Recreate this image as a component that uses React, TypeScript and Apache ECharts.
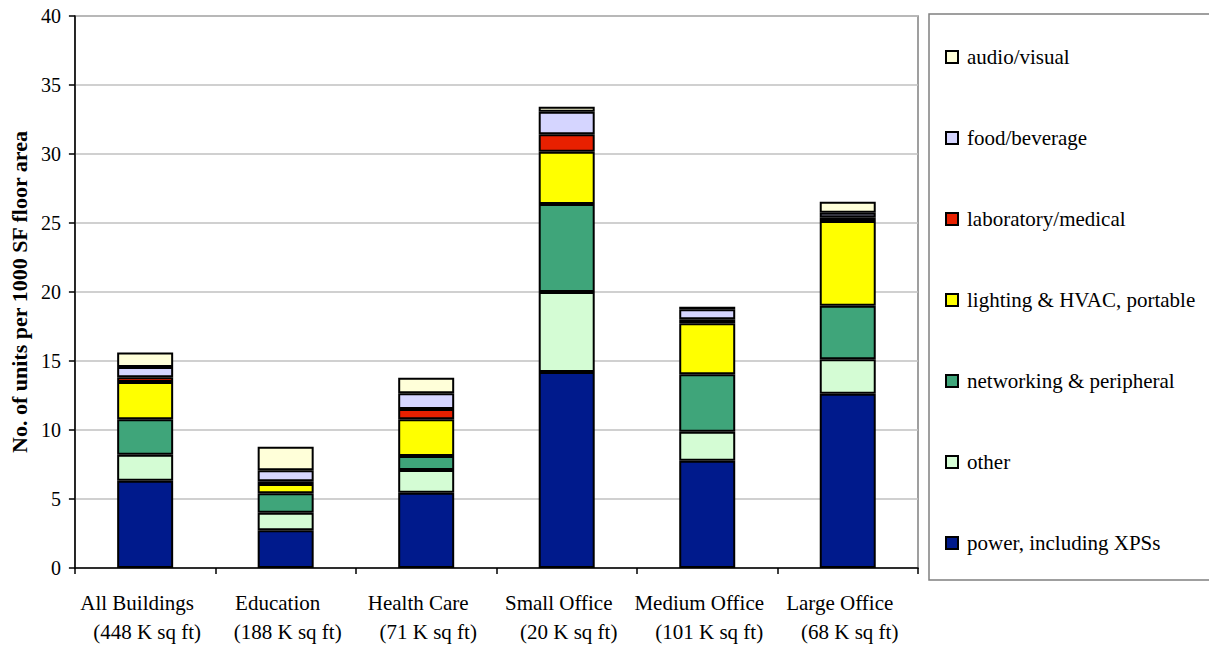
import React, { useEffect, useRef } from "react";
import * as echarts from "echarts";

const categories = ["All Buildings", "Education", "Health Care", "Small Office", "Medium Office", "Large Office"];
const areas = ["(448 K sq ft)", "(188 K sq ft)", "(71 K sq ft)", "(20 K sq ft)", "(101 K sq ft)", "(68 K sq ft)"];

const power = [6.33, 2.73, 5.46, 14.2, 7.78, 12.63];
const other = [1.88, 1.28, 1.64, 5.8, 2.1, 2.49];
const networking = [2.56, 1.41, 1.01, 6.38, 4.16, 3.88];
const lighting = [2.7, 0.67, 2.66, 3.79, 3.69, 6.14];
const laboratory = [0.36, 0.2, 0.75, 1.26, 0.29, 0.27];
const food = [0.73, 0.8, 1.14, 1.64, 0.73, 0.34];
const audio = [1.06, 1.69, 1.13, 0.36, 0.18, 0.79];

const seriesNames = [
  "power, including XPSs",
  "other",
  "networking & peripheral",
  "lighting & HVAC, portable",
  "laboratory/medical",
  "food/beverage",
  "audio/visual",
];
const seriesData = [power, other, networking, lighting, laboratory, food, audio];
const seriesColors = ["#001a8c", "#d4fcd4", "#3fa57a", "#ffff00", "#e82000", "#d5d5ff", "#ffffd9"];

const FONT = "Liberation Serif";

export default function App() {
  const ref = useRef<HTMLDivElement>(null);
  useEffect(() => {
    document.body.style.margin = "0";
    if (!ref.current) return;
    const chart = echarts.init(ref.current, null, { renderer: "svg" });
    chart.setOption({
      animation: false,
      backgroundColor: "#ffffff",
      textStyle: { fontFamily: FONT, color: "#000" },
      grid: {
        left: 73,
        top: 16,
        right: 291,
        bottom: 77,
        show: true,
        borderColor: "#808080",
        borderWidth: 1.5,
      },
      legend: {
        orient: "vertical",
        left: 945,
        top: 46,
        padding: 0,
        itemWidth: 12,
        itemHeight: 12,
        itemGap: 59,
        icon: "rect",
        data: [...seriesNames].reverse(),
        textStyle: { fontFamily: FONT, fontSize: 21, color: "#000", lineHeight: 22, padding: [0, 0, 0, 4] },
      },
      graphic: [
        {
          type: "rect",
          shape: { x: 929, y: 14, width: 300, height: 566 },
          style: { fill: "none", stroke: "#808080", lineWidth: 1.5 },
          silent: true,
        },
      ],
      xAxis: {
        type: "category",
        data: categories,
        axisLine: { lineStyle: { color: "#000", width: 1.5 } },
        axisTick: { show: true, alignWithLabel: false, length: 6, lineStyle: { color: "#000", width: 1.5 } },
        axisLabel: {
          margin: 20,
          interval: 0,
          formatter: (v: string, i: number) => `{a|${v}}\n{b|${areas[i]}}`,
          rich: {
            a: { fontFamily: FONT, fontSize: 21, color: "#000", lineHeight: 29, padding: [0, 16, 0, 0] },
            b: { fontFamily: FONT, fontSize: 21, color: "#000", lineHeight: 29, padding: [0, 0, 0, 4] },
          },
        },
      },
      yAxis: {
        type: "value",
        min: 0,
        max: 40,
        interval: 5,
        name: "No. of units per 1000 SF floor area",
        nameLocation: "middle",
        nameGap: 40,
        nameTextStyle: { fontFamily: FONT, fontSize: 22, fontWeight: "bold", color: "#000" },
        axisLine: { show: true, lineStyle: { color: "#000", width: 1.5 } },
        axisTick: { show: true, length: 6, lineStyle: { color: "#000", width: 1.5 } },
        axisLabel: { fontFamily: FONT, fontSize: 20, color: "#000", margin: 14 },
        splitLine: { lineStyle: { color: "#c0c0c0", width: 1.5 } },
      },
      series: seriesNames.map((name, i) => ({
        name,
        type: "bar",
        stack: "total",
        barWidth: 56,
        data: seriesData[i],
        itemStyle: { color: seriesColors[i], borderColor: "#000", borderWidth: 2 },
      })),
    });
    return () => chart.dispose();
  }, []);
  return <div ref={ref} style={{ width: 1209, height: 645 }} />;
}
